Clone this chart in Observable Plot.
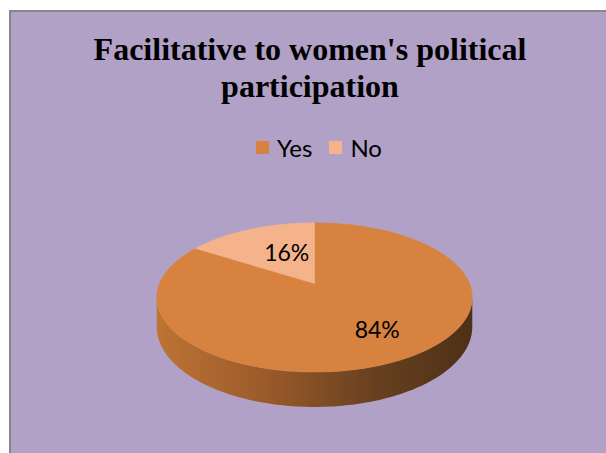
<!DOCTYPE html>
<html>
<head>
<meta charset="utf-8">
<script src="https://cdn.jsdelivr.net/npm/d3@7"></script>
<script src="https://cdn.jsdelivr.net/npm/@observablehq/plot@0.6"></script>
<style>
  html, body { margin: 0; padding: 0; background: #ffffff; overflow: hidden; width: 606px; height: 453px; }
  #box { position: absolute; left: 9px; top: 10px; width: 600px; height: 450px; border: 2px solid #878787; background: #b1a1c7; overflow: hidden; }
  #title { position: absolute; left: 0; top: 19px; width: 598px; text-align: center; font-family: "Liberation Serif", "Times New Roman", serif; font-weight: bold; font-size: 32px; line-height: 37px; color: #000; }
  #legend { position: absolute; left: 245px; top: 122px; height: 26px; display: flex; align-items: center; font-family: Lato, "Open Sans", sans-serif; font-size: 24px; color: #000; }
  #legend .sw { width: 13px; height: 13px; display: inline-block; margin-right: 8px; }
  #legend .item { display: flex; align-items: center; margin-right: 17px; }
  #chart { position: absolute; left: 0; top: 0; }
</style>
</head>
<body>
<div id="box">
  <div id="chart"></div>
  <div id="title">Facilitative to women's political<br>participation</div>
  <div id="legend"></div>
</div>
<script>
const categories = ["Yes", "No"];
const values = [84, 16];
const labels = ["84%", "16%"];
const colors = ["#d7823e", "#f5b38b"];

// pie layout (starts at 12 o'clock, clockwise, unsorted)
const arcs = d3.pie().sort(null).startAngle(0).endAngle(2 * Math.PI)(values);

// simple 3D perspective (tilted disc seen from the front)
const persp = 0.187;   // perspective strength
const depth = 0.394;   // thickness of the disc
function project(a, r, h) {
  const X = Math.sin(a) * r, Z = -Math.cos(a) * r;
  const d = 1 - persp * Z;
  return {x: X / d, y: (Z + h) / d};
}
const step = Math.PI / 180;
function arcPoints(a0, a1, h) {
  const pts = [];
  const n = Math.max(2, Math.ceil((a1 - a0) / step));
  for (let i = 0; i <= n; i++) pts.push(project(a0 + (a1 - a0) * i / n, 1, h));
  return pts;
}

// visible side wall (front part between the silhouette angles)
const sa0 = Math.acos(-persp), sa1 = 2 * Math.PI - Math.acos(-persp);
const sidePts = arcPoints(sa0, sa1, 0).concat(arcPoints(sa0, sa1, depth).reverse());

const sliceMarks = arcs.map((a, i) => {
  const c = project(0, 0, 0);
  const pts = [c].concat(arcPoints(a.startAngle, a.endAngle, 0)).concat([c]);
  return Plot.line(pts, {x: "x", y: "y", fill: colors[i], stroke: colors[i], strokeWidth: 0.5, curve: "linear"});
});

const labelData = arcs.map((a, i) => {
  const p = project((a.startAngle + a.endAngle) / 2, 0.6, 0);
  return {x: p.x, y: p.y, t: labels[i]};
});

const plot = Plot.plot({
  width: 598,
  height: 441,
  margin: 0,
  x: {domain: [-1, 1], range: [148, 458], axis: null},
  y: {domain: [-1, 1], range: [199, 343], axis: null},
  style: {background: "transparent", overflow: "visible"},
  marks: [
    Plot.line(sidePts, {x: "x", y: "y", fill: "url(#sideGrad)", stroke: "none", curve: "linear"}),
    ...sliceMarks,
    Plot.text(labelData, {x: "x", y: "y", text: "t", dx: 13, dy: 5, fontSize: 23, fontFamily: "Lato, 'Open Sans', sans-serif", fill: "#000"})
  ]
});
d3.select(plot).insert("defs", ":first-child").html(
  `<linearGradient id="sideGrad" x1="0" x2="1" y1="0" y2="0">
     <stop offset="0%" stop-color="#bd7434"/>
     <stop offset="35%" stop-color="#9a5a2a"/>
     <stop offset="70%" stop-color="#66401e"/>
     <stop offset="100%" stop-color="#4e3016"/>
   </linearGradient>`);
document.getElementById("chart").appendChild(plot);

const legend = d3.select("#legend");
categories.forEach((c, i) => {
  const item = legend.append("div").attr("class", "item");
  item.append("span").attr("class", "sw").style("background", colors[i]);
  item.append("span").text(c);
});
</script>
</body>
</html>
